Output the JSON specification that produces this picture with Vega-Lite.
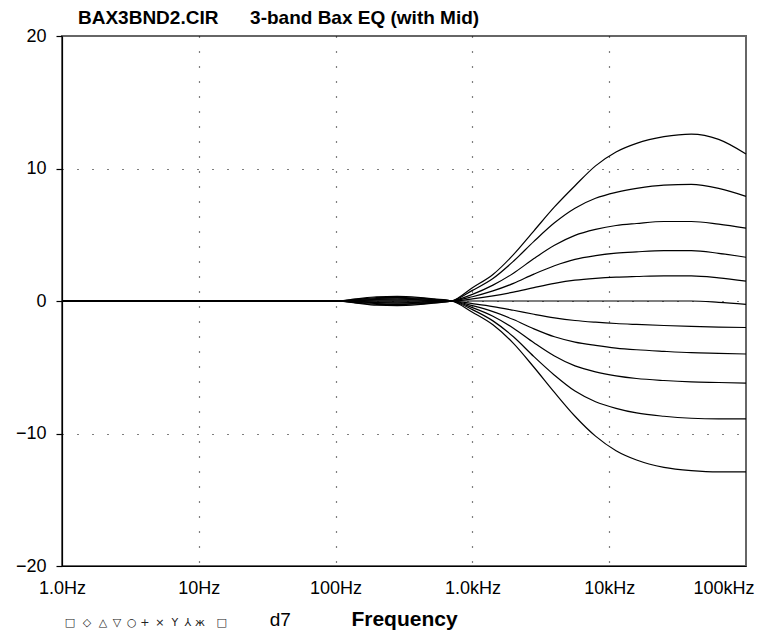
{
 "$schema": "https://vega.github.io/schema/vega-lite/v6.json",
 "width": 684, "height": 530,
 "autosize": {"type": "none"},
 "padding": {"left": 62, "top": 36, "right": 11, "bottom": 65},
 "background": "white",
 "config": {"font": "Liberation Sans", "view": {"stroke": "#666", "strokeWidth": 2}},
 "title": {"text": "BAX3BND2.CIR\u00a0\u00a0\u00a0\u00a0\u00a0\u00a03-band Bax EQ (with Mid)", "anchor": "start", "frame": "group", "fontSize": 19, "fontWeight": "bold", "color": "black", "dx": 16, "offset": -16, "baseline": "alphabetic"},
 "layer": [
  {
   "data": {"values": [
    {"c":"k0","f":1,"v":0},{"c":"k0","f":100,"v":0},{"c":"k0","f":141.3,"v":-0.16},{"c":"k0","f":199.5,"v":-0.32},{"c":"k0","f":281.8,"v":-0.35},{"c":"k0","f":398.1,"v":-0.28},{"c":"k0","f":524.8,"v":-0.16},{"c":"k0","f":707.9,"v":0},{"c":"k0","f":1000,"v":1.0},{"c":"k0","f":1413,"v":2.0},{"c":"k0","f":1995,"v":3.5},{"c":"k0","f":2818,"v":5.3},{"c":"k0","f":3981,"v":7.1},{"c":"k0","f":5623,"v":8.7},{"c":"k0","f":7943,"v":10.2},{"c":"k0","f":11220,"v":11.25},{"c":"k0","f":15849,"v":11.9},{"c":"k0","f":25119,"v":12.4},{"c":"k0","f":39811,"v":12.6},{"c":"k0","f":63096,"v":12.2},{"c":"k0","f":100000,"v":11.1},
    {"c":"k1","f":1,"v":0},{"c":"k1","f":100,"v":0},{"c":"k1","f":141.3,"v":-0.13},{"c":"k1","f":199.5,"v":-0.25},{"c":"k1","f":281.8,"v":-0.28},{"c":"k1","f":398.1,"v":-0.22},{"c":"k1","f":524.8,"v":-0.13},{"c":"k1","f":707.9,"v":0},{"c":"k1","f":1000,"v":0.8},{"c":"k1","f":1413,"v":1.7},{"c":"k1","f":1995,"v":3.0},{"c":"k1","f":2818,"v":4.5},{"c":"k1","f":3981,"v":5.9},{"c":"k1","f":5623,"v":7.0},{"c":"k1","f":7943,"v":7.75},{"c":"k1","f":11220,"v":8.2},{"c":"k1","f":15849,"v":8.5},{"c":"k1","f":25119,"v":8.75},{"c":"k1","f":39811,"v":8.8},{"c":"k1","f":63096,"v":8.5},{"c":"k1","f":100000,"v":7.9},
    {"c":"k2","f":1,"v":0},{"c":"k2","f":100,"v":0},{"c":"k2","f":141.3,"v":-0.09},{"c":"k2","f":199.5,"v":-0.19},{"c":"k2","f":281.8,"v":-0.21},{"c":"k2","f":398.1,"v":-0.17},{"c":"k2","f":524.8,"v":-0.09},{"c":"k2","f":707.9,"v":0},{"c":"k2","f":1000,"v":0.5},{"c":"k2","f":1413,"v":1.2},{"c":"k2","f":1995,"v":2.1},{"c":"k2","f":2818,"v":3.2},{"c":"k2","f":3981,"v":4.2},{"c":"k2","f":5623,"v":4.95},{"c":"k2","f":7943,"v":5.4},{"c":"k2","f":11220,"v":5.7},{"c":"k2","f":15849,"v":5.85},{"c":"k2","f":25119,"v":6.0},{"c":"k2","f":39811,"v":6.0},{"c":"k2","f":63096,"v":5.8},{"c":"k2","f":100000,"v":5.5},
    {"c":"k3","f":1,"v":0},{"c":"k3","f":100,"v":0},{"c":"k3","f":141.3,"v":-0.06},{"c":"k3","f":199.5,"v":-0.13},{"c":"k3","f":281.8,"v":-0.14},{"c":"k3","f":398.1,"v":-0.11},{"c":"k3","f":524.8,"v":-0.06},{"c":"k3","f":707.9,"v":0},{"c":"k3","f":1000,"v":0.32},{"c":"k3","f":1413,"v":0.76},{"c":"k3","f":1995,"v":1.33},{"c":"k3","f":2818,"v":2.03},{"c":"k3","f":3981,"v":2.66},{"c":"k3","f":5623,"v":3.14},{"c":"k3","f":7943,"v":3.42},{"c":"k3","f":11220,"v":3.61},{"c":"k3","f":15849,"v":3.71},{"c":"k3","f":25119,"v":3.8},{"c":"k3","f":39811,"v":3.8},{"c":"k3","f":63096,"v":3.6},{"c":"k3","f":100000,"v":3.3},
    {"c":"k4","f":1,"v":0},{"c":"k4","f":100,"v":0},{"c":"k4","f":141.3,"v":-0.03},{"c":"k4","f":199.5,"v":-0.06},{"c":"k4","f":281.8,"v":-0.07},{"c":"k4","f":398.1,"v":-0.06},{"c":"k4","f":524.8,"v":-0.03},{"c":"k4","f":707.9,"v":0},{"c":"k4","f":1000,"v":0.16},{"c":"k4","f":1413,"v":0.38},{"c":"k4","f":1995,"v":0.67},{"c":"k4","f":2818,"v":1.01},{"c":"k4","f":3981,"v":1.33},{"c":"k4","f":5623,"v":1.57},{"c":"k4","f":7943,"v":1.71},{"c":"k4","f":11220,"v":1.8},{"c":"k4","f":15849,"v":1.85},{"c":"k4","f":25119,"v":1.9},{"c":"k4","f":39811,"v":1.9},{"c":"k4","f":63096,"v":1.75},{"c":"k4","f":100000,"v":1.5},
    {"c":"k5","f":1,"v":0},{"c":"k5","f":100,"v":0},{"c":"k5","f":141.3,"v":0},{"c":"k5","f":199.5,"v":0},{"c":"k5","f":281.8,"v":0},{"c":"k5","f":398.1,"v":0},{"c":"k5","f":524.8,"v":0},{"c":"k5","f":707.9,"v":0},{"c":"k5","f":1000,"v":0},{"c":"k5","f":1413,"v":0},{"c":"k5","f":1995,"v":0},{"c":"k5","f":2818,"v":0},{"c":"k5","f":3981,"v":0},{"c":"k5","f":5623,"v":0},{"c":"k5","f":7943,"v":0},{"c":"k5","f":11220,"v":0},{"c":"k5","f":15849,"v":0},{"c":"k5","f":25119,"v":0},{"c":"k5","f":39811,"v":0},{"c":"k5","f":63096,"v":-0.1},{"c":"k5","f":100000,"v":-0.25},
    {"c":"k6","f":1,"v":0},{"c":"k6","f":100,"v":0},{"c":"k6","f":141.3,"v":0.03},{"c":"k6","f":199.5,"v":0.06},{"c":"k6","f":281.8,"v":0.07},{"c":"k6","f":398.1,"v":0.06},{"c":"k6","f":524.8,"v":0.03},{"c":"k6","f":707.9,"v":0},{"c":"k6","f":1000,"v":-0.2},{"c":"k6","f":1413,"v":-0.42},{"c":"k6","f":1995,"v":-0.7},{"c":"k6","f":2818,"v":-1.0},{"c":"k6","f":3981,"v":-1.27},{"c":"k6","f":5623,"v":-1.47},{"c":"k6","f":7943,"v":-1.6},{"c":"k6","f":11220,"v":-1.7},{"c":"k6","f":15849,"v":-1.77},{"c":"k6","f":25119,"v":-1.85},{"c":"k6","f":39811,"v":-1.92},{"c":"k6","f":63096,"v":-1.97},{"c":"k6","f":100000,"v":-2.0},
    {"c":"k7","f":1,"v":0},{"c":"k7","f":100,"v":0},{"c":"k7","f":141.3,"v":0.06},{"c":"k7","f":199.5,"v":0.13},{"c":"k7","f":281.8,"v":0.14},{"c":"k7","f":398.1,"v":0.11},{"c":"k7","f":524.8,"v":0.06},{"c":"k7","f":707.9,"v":0},{"c":"k7","f":1000,"v":-0.35},{"c":"k7","f":1413,"v":-0.8},{"c":"k7","f":1995,"v":-1.4},{"c":"k7","f":2818,"v":-2.1},{"c":"k7","f":3981,"v":-2.7},{"c":"k7","f":5623,"v":-3.1},{"c":"k7","f":7943,"v":-3.35},{"c":"k7","f":11220,"v":-3.55},{"c":"k7","f":15849,"v":-3.68},{"c":"k7","f":25119,"v":-3.8},{"c":"k7","f":39811,"v":-3.9},{"c":"k7","f":63096,"v":-3.95},{"c":"k7","f":100000,"v":-4.0},
    {"c":"k8","f":1,"v":0},{"c":"k8","f":100,"v":0},{"c":"k8","f":141.3,"v":0.09},{"c":"k8","f":199.5,"v":0.19},{"c":"k8","f":281.8,"v":0.21},{"c":"k8","f":398.1,"v":0.17},{"c":"k8","f":524.8,"v":0.09},{"c":"k8","f":707.9,"v":0},{"c":"k8","f":1000,"v":-0.5},{"c":"k8","f":1413,"v":-1.15},{"c":"k8","f":1995,"v":-2.05},{"c":"k8","f":2818,"v":-3.15},{"c":"k8","f":3981,"v":-4.15},{"c":"k8","f":5623,"v":-4.9},{"c":"k8","f":7943,"v":-5.35},{"c":"k8","f":11220,"v":-5.65},{"c":"k8","f":15849,"v":-5.85},{"c":"k8","f":25119,"v":-6.0},{"c":"k8","f":39811,"v":-6.1},{"c":"k8","f":63096,"v":-6.15},{"c":"k8","f":100000,"v":-6.2},
    {"c":"k9","f":1,"v":0},{"c":"k9","f":100,"v":0},{"c":"k9","f":141.3,"v":0.13},{"c":"k9","f":199.5,"v":0.25},{"c":"k9","f":281.8,"v":0.28},{"c":"k9","f":398.1,"v":0.22},{"c":"k9","f":524.8,"v":0.13},{"c":"k9","f":707.9,"v":0},{"c":"k9","f":1000,"v":-0.65},{"c":"k9","f":1413,"v":-1.5},{"c":"k9","f":1995,"v":-2.7},{"c":"k9","f":2818,"v":-4.2},{"c":"k9","f":3981,"v":-5.6},{"c":"k9","f":5623,"v":-6.8},{"c":"k9","f":7943,"v":-7.6},{"c":"k9","f":11220,"v":-8.1},{"c":"k9","f":15849,"v":-8.45},{"c":"k9","f":25119,"v":-8.7},{"c":"k9","f":39811,"v":-8.85},{"c":"k9","f":63096,"v":-8.9},{"c":"k9","f":100000,"v":-8.9},
    {"c":"k10","f":1,"v":0},{"c":"k10","f":100,"v":0},{"c":"k10","f":141.3,"v":0.16},{"c":"k10","f":199.5,"v":0.32},{"c":"k10","f":281.8,"v":0.35},{"c":"k10","f":398.1,"v":0.28},{"c":"k10","f":524.8,"v":0.16},{"c":"k10","f":707.9,"v":0},{"c":"k10","f":1000,"v":-0.85},{"c":"k10","f":1413,"v":-1.8},{"c":"k10","f":1995,"v":-3.2},{"c":"k10","f":2818,"v":-5.0},{"c":"k10","f":3981,"v":-6.9},{"c":"k10","f":5623,"v":-8.7},{"c":"k10","f":7943,"v":-10.2},{"c":"k10","f":11220,"v":-11.3},{"c":"k10","f":15849,"v":-12.0},{"c":"k10","f":25119,"v":-12.55},{"c":"k10","f":39811,"v":-12.8},{"c":"k10","f":63096,"v":-12.9},{"c":"k10","f":100000,"v":-12.9}
   ]},
   "mark": {"type": "line", "interpolate": "monotone", "color": "black", "strokeWidth": 1.2},
   "encoding": {
    "x": {"field": "f", "type": "quantitative", "title": "Frequency",
      "scale": {"type": "log", "domain": [1, 100000]},
      "axis": {"values": [1, 10, 100, 1000, 10000, 100000],
        "labelExpr": "datum.value == 1 ? '1.0Hz' : datum.value == 10 ? '10Hz' : datum.value == 100 ? '100Hz' : datum.value == 1000 ? '1.0kHz' : datum.value == 10000 ? '10kHz' : '100kHz'",
        "labelFontSize": 18, "labelColor": "black", "labelPadding": 13, "labelFont": "Liberation Sans",
        "labelAlign": {"condition": {"test": "datum.value == 100000", "value": "right"}, "value": "center"},
        "labelOffset": {"condition": {"test": "datum.value == 100000", "value": 8}, "value": 0},
        "labelOverlap": false, "labelBound": false, "labelFlush": false,
        "ticks": false, "domainColor": "black", "domainWidth": 1.2,
        "grid": true, "gridColor": "black", "gridDash": [1, 14], "gridWidth": 1.2,
        "gridOpacity": {"condition": {"test": "datum.value == 100000 || datum.value == 1", "value": 0}, "value": 1},
        "titleFontSize": 21, "titleFontWeight": "bold", "titleColor": "black", "titlePadding": 11, "titleFont": "Liberation Sans"}},
    "y": {"field": "v", "type": "quantitative", "title": null,
      "scale": {"domain": [-20, 20]},
      "axis": {"values": [-20, -10, 0, 10, 20],
        "labelExpr": "replace(format(datum.value, 'd'), '-', '–')",
        "labelFontSize": 18, "labelColor": "black", "labelPadding": 10, "labelFont": "Liberation Sans",
        "tickSize": 6, "tickColor": "black", "tickWidth": 1.2,
        "domainColor": "black", "domainWidth": 1.2,
        "grid": true, "gridColor": "black", "gridDash": [1, 14], "gridWidth": 1.2,
        "gridOpacity": {"condition": {"test": "abs(datum.value) == 20", "value": 0}, "value": 1}}},
    "detail": {"field": "c"}
   }
  },
  {
   "data": {"values": [
    {"s": "□", "f": 1.144}, {"s": "◇", "f": 1.522}, {"s": "△", "f": 1.992}, {"s": "▽", "f": 2.52},
    {"s": "○", "f": 3.24}, {"s": "+", "f": 4.04}, {"s": "×", "f": 5.19}, {"s": "Y", "f": 6.68},
    {"s": "⅄", "f": 8.31}, {"s": "ж", "f": 10.2}, {"s": "□", "f": 14.7}
   ]},
   "mark": {"type": "text", "font": "DejaVu Sans", "fontSize": 11, "align": "center", "baseline": "middle", "color": "#222"},
   "encoding": {
    "x": {"field": "f", "type": "quantitative", "title": "Frequency"},
    "y": {"datum": -24.3},
    "text": {"field": "s"}
   }
  },
  {
   "data": {"values": [{"s": "d7", "f": 33}]},
   "mark": {"type": "text", "font": "Liberation Sans", "fontSize": 19, "align": "left", "baseline": "middle", "color": "black"},
   "encoding": {
    "x": {"field": "f", "type": "quantitative", "title": "Frequency"},
    "y": {"datum": -24.1},
    "text": {"field": "s"}
   }
  }
 ]
}
